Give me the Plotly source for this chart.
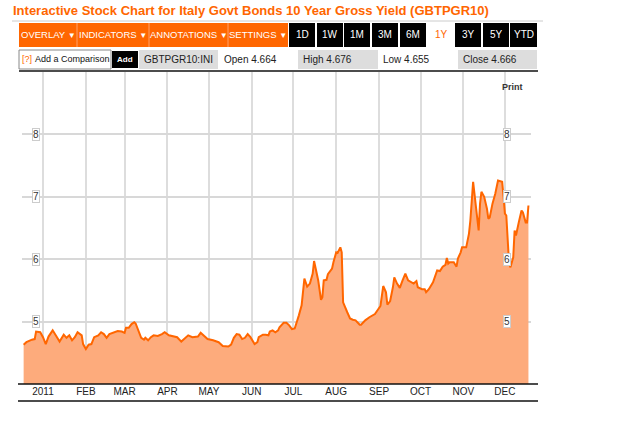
import plotly.graph_objects as go

# ---------------- data ----------------
dates = [
    "2010-12-18", "2010-12-20", "2010-12-24", "2010-12-26", "2010-12-27", "2010-12-30",
    "2011-01-01", "2011-01-03", "2011-01-05", "2011-01-08", "2011-01-10", "2011-01-13",
    "2011-01-16", "2011-01-18", "2011-01-20", "2011-01-22", "2011-01-24", "2011-01-26",
    "2011-01-29", "2011-01-30", "2011-02-01", "2011-02-03", "2011-02-05", "2011-02-07",
    "2011-02-10", "2011-02-12", "2011-02-14", "2011-02-16", "2011-02-18", "2011-02-21",
    "2011-02-24", "2011-02-27", "2011-03-01", "2011-03-02", "2011-03-04", "2011-03-06",
    "2011-03-08", "2011-03-09", "2011-03-11", "2011-03-13", "2011-03-15", "2011-03-16",
    "2011-03-18", "2011-03-20", "2011-03-22", "2011-03-25", "2011-03-28", "2011-03-30",
    "2011-04-02", "2011-04-05", "2011-04-08", "2011-04-11", "2011-04-14", "2011-04-16",
    "2011-04-19", "2011-04-23", "2011-04-25", "2011-04-27", "2011-04-30", "2011-05-04",
    "2011-05-08", "2011-05-11", "2011-05-13", "2011-05-15", "2011-05-17", "2011-05-19",
    "2011-05-21", "2011-05-23", "2011-05-25", "2011-05-27", "2011-05-29", "2011-05-31",
    "2011-06-03", "2011-06-05", "2011-06-06", "2011-06-09", "2011-06-11", "2011-06-13",
    "2011-06-14", "2011-06-16", "2011-06-18", "2011-06-20", "2011-06-21", "2011-06-24",
    "2011-06-26", "2011-06-28", "2011-06-30", "2011-07-02", "2011-07-05", "2011-07-07",
    "2011-07-09", "2011-07-11", "2011-07-13", "2011-07-15", "2011-07-16", "2011-07-18",
    "2011-07-19", "2011-07-21", "2011-07-22", "2011-07-23", "2011-07-25", "2011-07-26",
    "2011-07-29", "2011-07-30", "2011-08-01", "2011-08-02", "2011-08-04", "2011-08-05",
    "2011-08-06", "2011-08-09", "2011-08-11", "2011-08-13", "2011-08-15", "2011-08-18",
    "2011-08-19", "2011-08-22", "2011-08-25", "2011-08-29", "2011-08-31", "2011-09-02",
    "2011-09-04", "2011-09-06", "2011-09-07", "2011-09-09", "2011-09-11", "2011-09-12",
    "2011-09-14", "2011-09-16", "2011-09-18", "2011-09-20", "2011-09-22", "2011-09-25",
    "2011-09-26", "2011-09-28", "2011-09-29", "2011-10-02", "2011-10-04", "2011-10-05",
    "2011-10-07", "2011-10-10", "2011-10-11", "2011-10-13", "2011-10-15", "2011-10-17",
    "2011-10-19", "2011-10-20", "2011-10-21", "2011-10-22", "2011-10-25", "2011-10-27",
    "2011-10-28", "2011-10-30", "2011-10-31", "2011-11-03", "2011-11-05", "2011-11-06",
    "2011-11-08", "2011-11-10", "2011-11-12", "2011-11-13", "2011-11-14", "2011-11-16",
    "2011-11-18", "2011-11-19", "2011-11-20", "2011-11-22", "2011-11-24", "2011-11-26",
    "2011-11-27", "2011-11-29", "2011-11-30", "2011-12-01", "2011-12-02", "2011-12-03",
    "2011-12-04", "2011-12-05", "2011-12-07", "2011-12-08", "2011-12-09", "2011-12-11",
    "2011-12-13", "2011-12-14", "2011-12-16", "2011-12-17", "2011-12-18",
]
yields = [
    4.63, 4.67, 4.71, 4.72, 4.84, 4.83,
    4.75, 4.64, 4.76, 4.86, 4.79, 4.68,
    4.79, 4.74, 4.78, 4.70, 4.75, 4.83,
    4.78, 4.64, 4.56, 4.63, 4.64, 4.75,
    4.78, 4.83, 4.80, 4.74, 4.80, 4.82,
    4.85, 4.84, 4.82, 4.90, 4.90, 4.96,
    4.99, 4.97, 4.86, 4.74, 4.71, 4.74,
    4.70, 4.75, 4.78, 4.77, 4.80, 4.83,
    4.78, 4.76, 4.75, 4.68, 4.74, 4.78,
    4.75, 4.76, 4.82, 4.78, 4.72, 4.70,
    4.67, 4.61, 4.60, 4.60, 4.63, 4.74,
    4.80, 4.79, 4.72, 4.74, 4.80, 4.75,
    4.64, 4.67, 4.75, 4.79, 4.79, 4.78,
    4.84, 4.86, 4.83, 4.86, 4.91, 4.98,
    4.98, 4.94, 4.88, 4.89, 5.10, 5.26,
    5.69, 5.56, 5.61, 5.77, 5.97, 5.78,
    5.66, 5.35, 5.39, 5.66, 5.67, 5.76,
    5.85, 5.95, 6.11, 6.10, 6.19, 6.11,
    5.31, 5.15, 5.05, 5.03, 5.02, 4.95,
    4.95, 5.02, 5.07, 5.12, 5.18, 5.25,
    5.57, 5.47, 5.27, 5.33, 5.55, 5.71,
    5.61, 5.54, 5.66, 5.77, 5.66, 5.63,
    5.61, 5.65, 5.55, 5.52, 5.52, 5.47,
    5.52, 5.63, 5.69, 5.82, 5.81, 5.88,
    5.91, 6.02, 5.93, 5.95, 5.95, 5.88,
    6.01, 6.11, 6.19, 6.19, 6.41, 6.62,
    7.24, 6.89, 6.46, 6.89, 7.08, 7.00,
    6.81, 6.65, 6.67, 6.89, 7.05, 7.26,
    7.25, 7.24, 7.00, 6.73, 6.70, 6.19,
    5.93, 5.87, 6.03, 6.46, 6.38, 6.59,
    6.78, 6.75, 6.59, 6.59, 6.86,
]

month_ticks = ["2011-01-01", "2011-02-01", "2011-03-01", "2011-04-01", "2011-05-01",
               "2011-06-01", "2011-07-01", "2011-08-01", "2011-09-01", "2011-10-01",
               "2011-11-01", "2011-12-01"]
month_labels = ["2011", "FEB", "MAR", "APR", "MAY", "JUN", "JUL", "AUG", "SEP", "OCT",
                "NOV", "DEC"]
y_ticks = [5, 6, 7, 8]

title_text = "Interactive Stock Chart for Italy Govt Bonds 10 Year Gross Yield (GBTPGR10)"
menu_labels = ["OVERLAY", "INDICATORS", "ANNOTATIONS", "SETTINGS"]
period_labels = ["1D", "1W", "1M", "3M", "6M", "1Y", "3Y", "5Y", "YTD"]
active_period = "1Y"
ticker_label = "GBTPGR10:INI"
quote_labels = ["Open 4.664", "High 4.676", "Low 4.655", "Close 4.666"]

# ---------------- geometry (pixels) ----------------
W, H = 631, 434
PL, PR, PT, PB = 22, 531, 72, 384
PW, PH = PR - PL, PB - PT


def px(x):
    return (x - PL) / PW


def py(y):
    return (PB - y) / PH


FONT = "Arial, 'Liberation Sans', sans-serif"
ORANGE = "#FF6600"

shapes = []
annotations = []


def rect(x0, y0, x1, y1, fill, line=None, lw=0):
    shapes.append(dict(type="rect", xref="paper", yref="paper",
                       x0=px(x0), x1=px(x1), y0=py(y1), y1=py(y0),
                       fillcolor=fill, line=dict(color=line or fill, width=lw),
                       layer="above"))


def hline(x0, x1, y, color, w=1):
    shapes.append(dict(type="line", xref="paper", yref="paper",
                       x0=px(x0), x1=px(x1), y0=py(y), y1=py(y),
                       line=dict(color=color, width=w), layer="above"))


def vline(x, y0, y1, color, w=1):
    shapes.append(dict(type="line", xref="paper", yref="paper",
                       x0=px(x), x1=px(x), y0=py(y0), y1=py(y1),
                       line=dict(color=color, width=w), layer="above"))


def text(x, y, s, size=10, color="#222", anchor="center", bold=False, **kw):
    annotations.append(dict(xref="paper", yref="paper", x=px(x), y=py(y),
                            text=("<b>%s</b>" % s) if bold else s,
                            showarrow=False, xanchor=anchor, yanchor="middle",
                            font=dict(family=FONT, size=size, color=color), **kw))


# title
text(11, 10, title_text, size=13, color=ORANGE, anchor="left", bold=True)
hline(12, 543, 21, "#cccccc", 1)

# menu buttons
menu_edges = [19, 77, 149, 228, 288]
rect(menu_edges[0], 23, menu_edges[-1], 47, ORANGE)
for i, lab in enumerate(menu_labels):
    if i > 0:
        vline(menu_edges[i], 23, 47, "#ff9f66", 1)
    text((menu_edges[i] + menu_edges[i + 1]) / 2, 35,
         lab + " <span style='font-size:8px'>▼</span>", size=9.5, color="white")

# period buttons
period_edges = [(289, 315), (317, 343), (344, 370), (372, 398), (400, 426),
                (428, 453), (455, 481), (483, 509), (510, 537)]
for lab, (a, b) in zip(period_labels, period_edges):
    if lab == active_period:
        text((a + b) / 2 + 1, 35, lab, size=10, color=ORANGE)
    else:
        rect(a, 23, b, 47, "#000000")
        text((a + b) / 2, 35, lab, size=10, color="white")

# second row
rect(19, 50, 111, 69, "white", "#888888", 1)
text(20, 59.5, "[?]", size=9, color=ORANGE, anchor="left")
text(33, 59.5, "Add a Comparison", size=9, color="#111", anchor="left")
rect(112, 51, 138, 68, "#000000")
text(125, 59.5, "Add", size=8, color="white", bold=True)
rect(139, 50, 218, 69, "#dddddd")
text(178.5, 59.5, ticker_label, size=10, color="#222")
text(222, 59.5, quote_labels[0], size=10, color="#222", anchor="left")
rect(298, 50, 378, 69, "#dddddd")
text(301, 59.5, quote_labels[1], size=10, color="#222", anchor="left")
text(381, 59.5, quote_labels[2], size=10, color="#222", anchor="left")
rect(458, 50, 537, 69, "#dddddd")
text(461, 59.5, quote_labels[3], size=10, color="#222", anchor="left")
hline(19, 538, 71, "#111111", 1.5)

# print
text(512, 87, "Print", size=9, color="#333", bold=True)

# axis lines at bottom
hline(18, 538, 384, "#111111", 1.5)
hline(18, 538, 401, "#111111", 1.5)

# y labels (boxed) on left and right, positioned via the y axis
for v in y_ticks:
    for xp in (36, 507):
        annotations.append(dict(xref="paper", yref="y", x=px(xp), y=v, text=str(v),
                                showarrow=False, xanchor="center", yanchor="middle",
                                font=dict(family=FONT, size=10, color="#333"),
                                bgcolor="white", bordercolor="#cccccc", borderwidth=1,
                                borderpad=0))

fig = go.Figure()
fig.add_trace(go.Scatter(
    x=dates, y=yields, mode="lines",
    line=dict(color=ORANGE, width=2),
    fill="tozeroy", fillcolor="#FDAB7C",
    hoverinfo="x+y",
))

fig.update_layout(
    width=W, height=H, autosize=False,
    margin=dict(l=PL, r=W - PR, t=PT, b=H - PB, pad=0),
    paper_bgcolor="white", plot_bgcolor="white",
    showlegend=False,
    shapes=shapes, annotations=annotations,
    font=dict(family=FONT),
    xaxis=dict(
        type="date",
        range=["2010-12-16T19:40:00", "2011-12-19T20:24:00"],
        tickmode="array", tickvals=month_ticks, ticktext=month_labels,
        showgrid=True, gridcolor="#dddddd", gridwidth=1.5,
        showline=False, zeroline=False, ticks="",
        tickfont=dict(family=FONT, size=10, color="#222"),
        fixedrange=True,
    ),
    yaxis=dict(
        range=[4, 9], tickmode="array", tickvals=y_ticks,
        showticklabels=False, showgrid=True, gridcolor="#d8d8d8", gridwidth=1.5,
        showline=False, zeroline=False, ticks="", fixedrange=True,
    ),
)

fig.write_html("out.html", config={"displayModeBar": False},
               post_script="document.body.style.margin='0';document.body.style.overflow='hidden';")
